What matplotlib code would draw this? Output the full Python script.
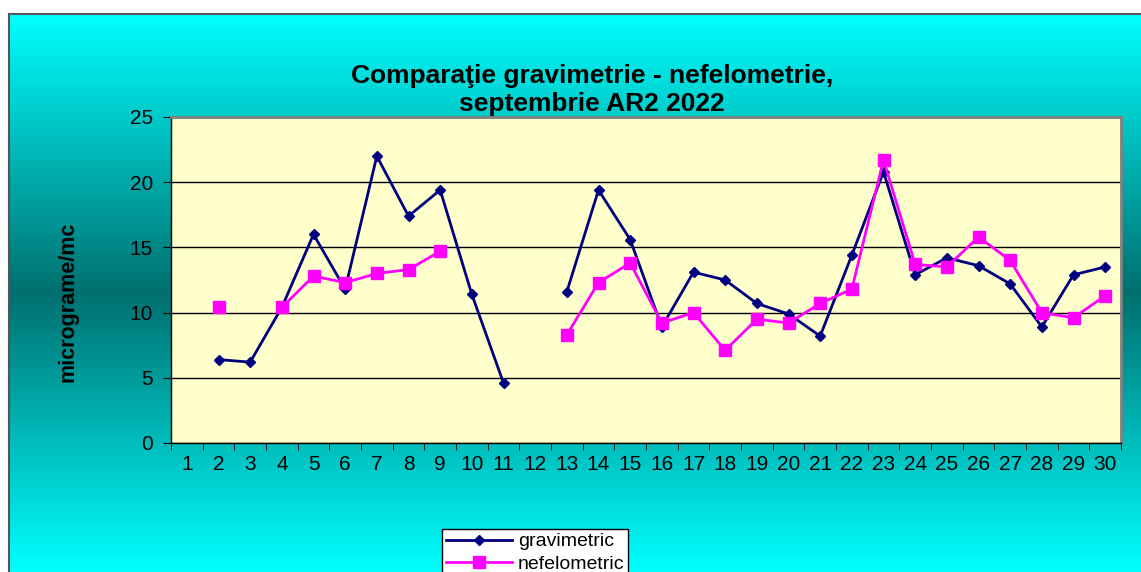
import matplotlib
matplotlib.use("Agg")
import matplotlib.pyplot as plt
import matplotlib.colors as mcolors
import numpy as np

plt.rcParams['font.family'] = ['Liberation Sans', 'DejaVu Sans']

days = list(range(1, 31))
# None = no measurement
gravimetric = [None, 6.4, 6.2, 10.4, 16.0, 11.8, 22.0, 17.4, 19.4, 11.4,
               4.6, None, 11.6, 19.4, 15.6, 8.9, 13.1, 12.5, 10.7, 9.9,
               8.2, 14.4, 20.8, 12.9, 14.2, 13.6, 12.2, 8.9, 12.9, 13.5]
nefelometric = [None, 10.4, None, 10.4, 12.8, 12.3, 13.0, 13.3, 14.7, None,
                None, None, 8.3, 12.3, 13.8, 9.2, 10.0, 7.1, 9.5, 9.2,
                10.7, 11.8, 21.7, 13.7, 13.5, 15.8, 14.0, 10.0, 9.6, 11.3]
yticks = [0, 5, 10, 15, 20, 25]

W, H = 1141, 572
fig = plt.figure(figsize=(W / 100, H / 100), dpi=100)
fig.patch.set_facecolor('white')

# fundal cu gradient
bg = fig.add_axes([9 / W, 0, 1 - 9 / W, (H - 14) / H], zorder=-5)
cmap = mcolors.LinearSegmentedColormap.from_list(
    "", [(0, "#00ffff"), (0.5, "#006f6f"), (1, "#00ffff")])
grad = np.linspace(0, 1, 256).reshape(-1, 1)
bg.imshow(grad, cmap=cmap, aspect='auto', extent=[0, 1, 0, 1])
bg.set_xlim(0, 1)
bg.set_ylim(0, 1)
bg.set_xticks([])
bg.set_yticks([])
bg.spines['right'].set_visible(False)
bg.spines['bottom'].set_visible(False)
bg.spines['left'].set_color('#555555')
bg.spines['top'].set_color('#555555')
bg.spines['left'].set_linewidth(1.5)
bg.spines['top'].set_linewidth(1.5)

ax = fig.add_axes([171 / W, (H - 443) / H, 950 / W, 326 / H])
ax.set_facecolor('#ffffcc')

g = np.array([np.nan if v is None else v for v in gravimetric], dtype=float)
n = np.array([np.nan if v is None else v for v in nefelometric], dtype=float)

ax.plot(days, g, color='#000080', lw=2, marker='D', markersize=5.5,
        label='gravimetric', zorder=3)
ax.plot(days, n, color='#ff00ff', lw=2, marker='s', markersize=8,
        label='nefelometric', zorder=4)

ax.set_xlim(0.5, 30.5)
ax.set_ylim(0, 25)
ax.set_yticks(yticks)
ax.set_xticks(days)
ax.set_xticklabels([str(d) for d in days], fontsize=15)
ax.set_xticks(np.arange(0.5, 31, 1), minor=True)
ax.tick_params(axis='x', which='major', length=0, pad=9)
ax.tick_params(axis='x', which='minor', length=5, direction='out', color='black')
ax.tick_params(axis='y', length=6, direction='out', labelsize=15, pad=7)
ax.grid(axis='y', color='black', lw=1)
ax.set_axisbelow(True)

for s in ['top', 'right']:
    ax.spines[s].set_color('#808080')
    ax.spines[s].set_linewidth(2)
for s in ['left', 'bottom']:
    ax.spines[s].set_color('black')
    ax.spines[s].set_linewidth(1)

ax.set_ylabel('micrograme/mc', fontsize=15.5, fontweight='bold')
ax.yaxis.set_label_coords(-0.097, 0.4325)

fig.text(592 / W, 1 - 90 / H, 'Comparaţie gravimetrie - nefelometrie,\nseptembrie AR2 2022',
         ha='center', va='center', fontsize=19, fontweight='bold', linespacing=1.2)

leg = ax.legend(loc='upper left', bbox_to_anchor=(442 / W, 1 - 529 / H),
                bbox_transform=fig.transFigure, fontsize=14, frameon=True,
                fancybox=False, edgecolor='black', framealpha=1,
                borderpad=0.2, handlelength=3.4, handletextpad=0.3,
                labelspacing=0.25, borderaxespad=0)
leg.get_frame().set_linewidth(1)

fig.savefig('out.png', dpi=100)
